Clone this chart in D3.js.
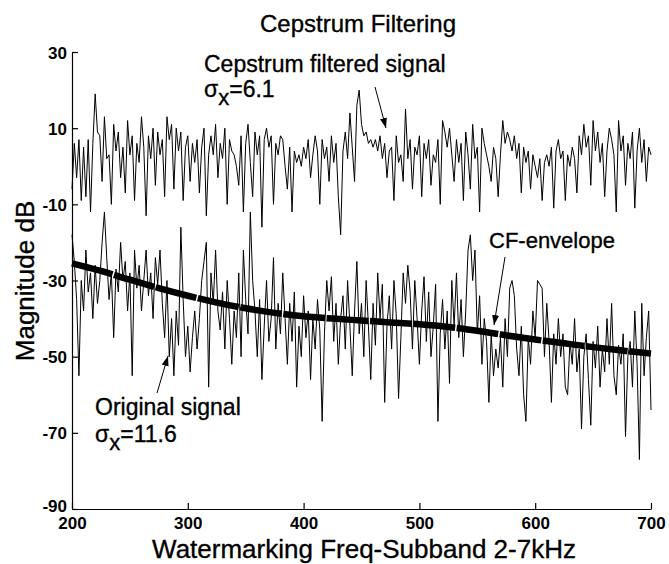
<!DOCTYPE html>
<html>
<head>
<meta charset="utf-8">
<script src="https://cdn.jsdelivr.net/npm/d3@7"></script>
<style>
  body { margin: 0; background: #fff; }
  svg { display: block; font-family: "Liberation Sans", Arial, Helvetica, sans-serif; }
  .lbl { fill: #000; stroke: #000; stroke-width: 0.35px; }
</style>
</head>
<body>
<svg id="chart" width="669" height="564"></svg>
<script>
// ---- Data ----
const xStart = 200, xStep = 2;
const filteredSignal = [
  -6, 6, -3, 7, -9, 5, -8, 7, -12, 6,
  19, 9, 8, -4, 13, 2, 3, -10, 11, 4,
  9, -3, 5, -7, 12, 3, 8, -9, 6, 1,
  13, 5, -13, 8, 2, 10, -5, 9, 3, 7,
  -8, 13, 7, 11, -6, 10, 4, 9, -9, 5,
  8, -4, 6, 1, 7, -7, 5, 10, -13, 3,
  8, 3, 11, -3, 6, 2, 10, -10, 7, 4,
  3, 0, -5, 8, -12, 6, 11, 1, -8, 9,
  3, 8, -16, 7, 10, 5, 8, -10, 6, 3,
  8, 7, 0, -6, 5, -12, 4, 1, 3, 0,
  5, 2, 7, -3, 3, 8, 4, -10, 7, 2,
  5, -4, 8, 1, 6, -8, -18, 4, 9, 2,
  14, 5, -4, 16, 20, 11, 8, 9, 6, 7,
  5, 7, 4, 8, 2, 6, -3, 4, 5, -9,
  8, 1, 3, -4, 15, 2, 7, -6, 5, 3,
  8, -8, 6, 2, 7, -5, 3, 1, 7, -10,
  12, 9, 5, 10, 3, -4, 7, 1, 6, -9,
  9, 3, -6, 11, 2, 5, -12, 10, 6, 3,
  0, -4, 5, 2, -8, 3, 12, 6, 9, 7,
  4, 8, 2, 6, -7, 5, 1, 4, -6, 3,
  0, -3, 2, -9, 1, 3, 0, 5, -11, 4,
  7, 2, 4, -9, 3, 0, 5, 2, -7, 8,
  3, 11, 5, 8, -5, 12, 4, 9, 1, 6,
  -8, 4, 10, 7, 3, -12, 12, 4, 8, -5,
  6, 2, 9, -11, 4, 10, 1, 7, -4, 5,
  3
];
const originalSignal = [
  -18, -25, -35, -55, -30, -38, -22, -33, -28, -40,
  -26, -36, -30, -20, -12, -24, -35, -28, -45, -27,
  -33, -20, -30, -25, -38, -28, -55, -22, -32, -26,
  -38, -30, -22, -34, -28, -40, -24, -31, -22, -36,
  -45, -30, -50, -40, -55, -38, -47, -16, -35, -50,
  -42, -54, -45, -38, -48, -40, -30, -25, -20, -58,
  -28, -36, -22, -38, -43, -33, -48, -30, -40, -52,
  -38, -45, -28, -50, -22, -35, -44, -12, -30, -38,
  -50, -35, -56, -42, -30, -46, -40, -24, -48, -36,
  -44, -28, -40, -52, -36, -46, -33, -58, -42, -50,
  -34, -45, -38, -56, -40, -48, -35, -43, -67, -44,
  -30, -38, -29, -46, -36, -52, -40, -34, -48, -30,
  -42, -55, -38, -25, -44, -36, -50, -30, -42, -56,
  -36, -47, -28, -40, -31, -62, -42, -34, -48, -30,
  -39, -61, -45, -28, -36, -26, -33, -48, -30, -40,
  -52, -38, -29, -46, -33, -50, -42, -31, -67, -44,
  -35, -48, -38, -57, -30, -42, -28, -45, -35, -50,
  -38, -22, -18, -30, -22, -44, -34, -52, -40, -46,
  -62, -44, -55, -48, -53, -45, -58, -40, -50, -32,
  -30, -34, -48, -55, -42, -60, -67, -45, -52, -38,
  -45, -30, -31, -32, -50, -36, -46, -62, -44, -52,
  -40, -50, -44, -58, -60, -46, -52, -40, -54, -48,
  -69, -50, -44, -56, -68, -46, -53, -42, -58, -48,
  -54, -40, -52, -36, -55, -60, -47, -52, -44, -71,
  -50, -46, -58, -38, -52, -77, -36, -55, -45, -38,
  -64
];
const envelopeX = [200, 225, 250, 275, 300, 325, 350, 375, 400, 425, 450, 475, 500, 525, 550, 575, 600, 625, 650, 675, 700];
const envelopeY = [-25.5, -27.5, -29.8, -32, -34, -35.8, -37.3, -38.5, -39.4, -40, -40.5, -41, -41.5, -42.2, -43.2, -44.4, -45.5, -46.5, -47.5, -48.4, -49.2];
const xTicks = [200, 300, 400, 500, 600, 700];
const yTicks = [30, 10, -10, -30, -50, -70, -90];

// ---- Layout ----
const svg = d3.select("#chart");
const mLeft = 72, mRight = 651, mTop = 52, mBottom = 509;
const x = d3.scaleLinear().domain([200, 700]).range([mLeft, mRight]);
const y = d3.scaleLinear().domain([-90, 30]).range([mBottom, mTop]);

const line = d3.line().x(d => x(d[0])).y(d => y(d[1]));

const filtPts = filteredSignal.map((v, i) => [xStart + i * xStep, v]);
const origPts = originalSignal.map((v, i) => [xStart + i * xStep, v]);
const envPts = envelopeX.map((v, i) => [v, envelopeY[i]]);

// signals
svg.append("path").attr("d", line(origPts))
  .attr("fill", "none").attr("stroke", "#000").attr("stroke-width", 1).attr("stroke-linejoin", "round");
svg.append("path").attr("d", line(filtPts))
  .attr("fill", "none").attr("stroke", "#000").attr("stroke-width", 1).attr("stroke-linejoin", "round");

// CF envelope: thick, nearly continuous
svg.append("path").attr("d", d3.line().x(d => x(d[0])).y(d => y(d[1])).curve(d3.curveMonotoneX)(envPts))
  .attr("fill", "none").attr("stroke", "#000").attr("stroke-width", 6.5)
  .attr("stroke-dasharray", "42,1.5");

// ---- Axes ----
const plainFmt = d => String(d);
const xAxis = d3.axisBottom(x).tickValues(xTicks).tickFormat(plainFmt).tickSizeInner(-6).tickSizeOuter(0).tickPadding(8);
const yAxis = d3.axisLeft(y).tickValues(yTicks).tickFormat(plainFmt).tickSizeInner(-6).tickSizeOuter(0).tickPadding(5);

const gx = svg.append("g").attr("transform", `translate(0,${mBottom})`).call(xAxis);
const gy = svg.append("g").attr("transform", `translate(${mLeft},0)`).call(yAxis);
[gx, gy].forEach(g => {
  g.select(".domain").attr("stroke", "#000").attr("stroke-width", 1.2);
  g.selectAll(".tick line").attr("stroke", "#000").attr("stroke-width", 1.2);
  g.selectAll(".tick text").attr("fill", "#000")
    .style("font-family", '"Liberation Sans", Arial, sans-serif')
    .style("font-size", "17px").style("font-weight", "bold");
});
gx.selectAll(".tick text").attr("dy", "0.71em");
gy.selectAll(".tick text").attr("dy", d => d === -90 ? "0.12em" : "0.36em");

// ---- Texts ----
const fs = "23px";
svg.append("text").attr("class", "lbl").attr("x", 358).attr("y", 32).attr("text-anchor", "middle")
  .style("font-size", "24px").text("Cepstrum Filtering");

svg.append("text").attr("class", "lbl").attr("x", 364).attr("y", 558).attr("text-anchor", "middle")
  .style("font-size", "26px").text("Watermarking Freq-Subband 2-7kHz");

svg.append("text").attr("class", "lbl").attr("transform", "translate(34,281) rotate(-90)").attr("text-anchor", "middle")
  .style("font-size", "26px").text("Magnitude dB");

function sigmaLabel(xp, yp, val) {
  const t = svg.append("text").attr("class", "lbl").attr("x", xp).attr("y", yp).style("font-size", fs);
  t.append("tspan").text("σ");
  t.append("tspan").attr("dy", 8).style("font-size", "22px").text("x");
  t.append("tspan").attr("dy", -8).text("=" + val);
}

svg.append("text").attr("class", "lbl").attr("x", 204).attr("y", 72).style("font-size", fs).text("Cepstrum filtered signal");
sigmaLabel(204, 97, "6.1");

svg.append("text").attr("class", "lbl").attr("x", 489).attr("y", 248).style("font-size", "22px").text("CF-envelope");

svg.append("text").attr("class", "lbl").attr("x", 95).attr("y", 415).style("font-size", fs).text("Original signal");
sigmaLabel(95, 442, "11.6");

// ---- Arrows ----
svg.append("defs").append("marker").attr("id", "ah")
  .attr("viewBox", "0 0 10 10").attr("refX", 10).attr("refY", 5)
  .attr("markerWidth", 10).attr("markerHeight", 10).attr("markerUnits", "userSpaceOnUse")
  .attr("orient", "auto")
  .append("path").attr("d", "M0,1.5 L10,5 L0,8.5 Z").attr("fill", "#000");

function arrow(x1, y1, x2, y2) {
  svg.append("line").attr("x1", x1).attr("y1", y1).attr("x2", x2).attr("y2", y2)
    .attr("stroke", "#000").attr("stroke-width", 1).attr("marker-end", "url(#ah)");
}
arrow(375, 87, 386, 128);
arrow(505, 257, 494, 325);
arrow(157, 393, 168, 356);
</script>
</body>
</html>
